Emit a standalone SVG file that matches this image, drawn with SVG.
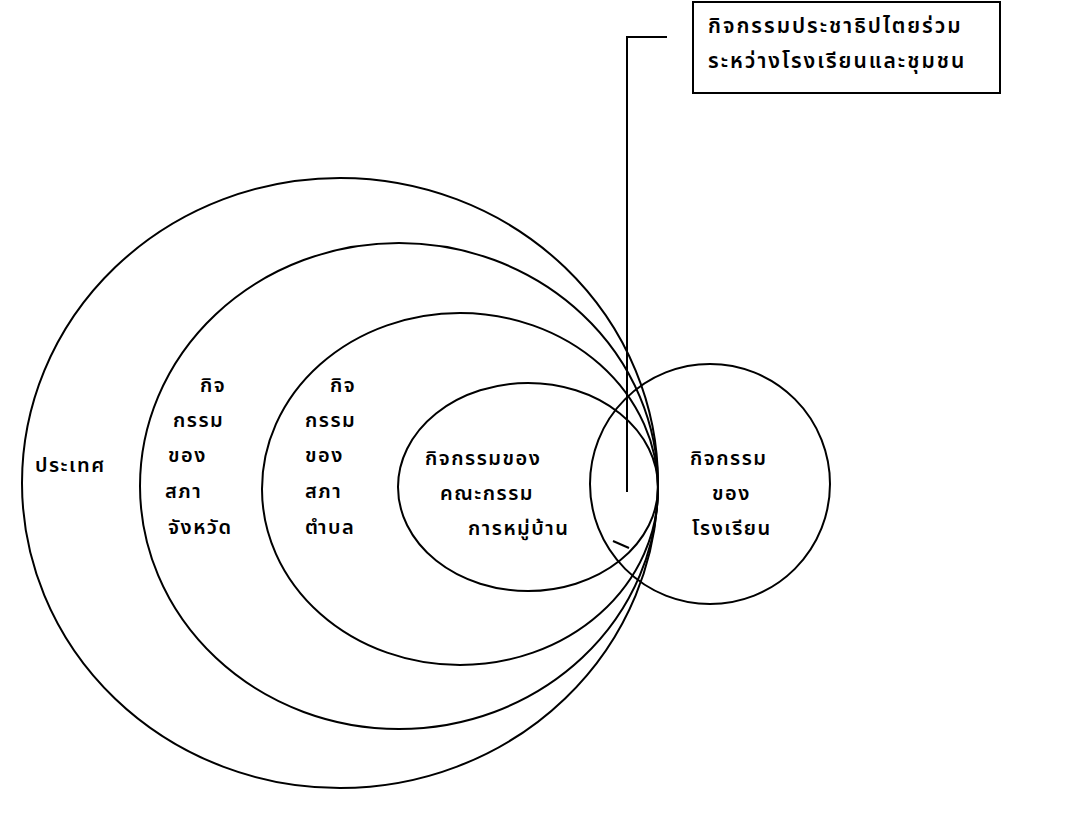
<svg xmlns="http://www.w3.org/2000/svg" width="1085" height="819" viewBox="0 0 1085 819">
<style>
.c{fill:none;stroke:#000;stroke-width:2}
.t{font-family:"Noto Sans Thai","Loma","Garuda","Noto Sans","DejaVu Sans",sans-serif;font-size:20px;font-weight:600;letter-spacing:1.5px;fill:#000}
.b{font-size:21px;letter-spacing:2px}
</style>
<rect width="1085" height="819" fill="#fff"/>
<g id="country"><ellipse class="c" cx="340" cy="483" rx="318" ry="305"/><text class="t" x="35" y="472">ประเทศ</text></g>
<g id="province"><ellipse class="c" cx="399" cy="486" rx="259" ry="243"/>
<text class="t" x="200" y="392">กิจ</text><text class="t" x="173" y="427">กรรม</text><text class="t" x="168" y="462">ของ</text><text class="t" x="165" y="498">สภา</text><text class="t" x="168" y="534">จังหวัด</text></g>
<g id="subdistrict"><ellipse class="c" cx="460" cy="489" rx="198" ry="176"/>
<text class="t" x="330" y="392">กิจ</text><text class="t" x="305" y="427">กรรม</text><text class="t" x="305" y="462">ของ</text><text class="t" x="305" y="498">สภา</text><text class="t" x="305" y="534">ตำบล</text></g>
<g id="village"><ellipse class="c" cx="528" cy="487" rx="130" ry="104"/>
<text class="t" x="425" y="465">กิจกรรมของ</text><text class="t" x="440" y="500">คณะกรรม</text><text class="t" x="468" y="535">การหมู่บ้าน</text></g>
<g id="school"><circle class="c" cx="710" cy="484" r="120"/>
<text class="t" x="690" y="465">กิจกรรม</text><text class="t" x="712" y="500">ของ</text><text class="t" x="692" y="535">โรงเรียน</text></g>
<g id="note"><rect class="c" x="693" y="2" width="307" height="91"/>
<text class="t b" x="708" y="33">กิจกรรมประชาธิปไตยร่วม</text><text class="t b" x="708" y="68">ระหว่างโรงเรียนและชุมชน</text></g>
<g id="connectors"><path class="c" d="M667,37 H627 V492"/><path class="c" d="M613,541 L629,548"/></g>
</svg>
